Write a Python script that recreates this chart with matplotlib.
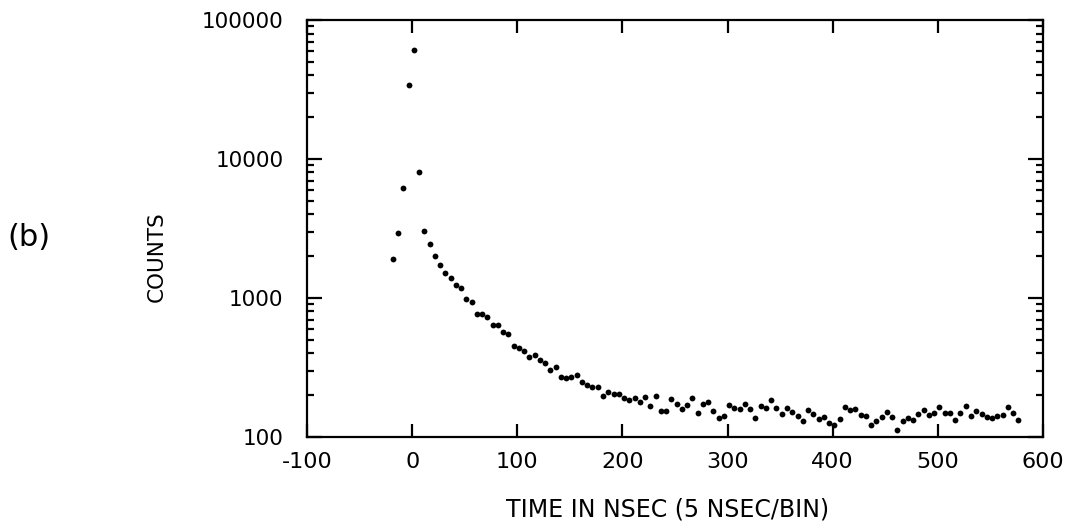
import numpy as np
import matplotlib
matplotlib.use('Agg')
from matplotlib import pyplot as plt
from matplotlib.ticker import LogLocator, NullFormatter

plt.rcParams['axes.unicode_minus'] = False
plt.rcParams['font.family'] = 'DejaVu Sans'

# 5 nsec bins
time = np.arange(-18.5, 580, 5)

# counts per bin
counts = [
    1900, 2920, 6210, 34200, 60800, 8100, 3030,
    2450, 2015, 1730, 1520, 1400, 1240, 1186, 979, 931, 771,
    765, 726, 640, 640, 566, 548, 454, 437, 418, 378, 387, 358, 339,
    303, 317, 269, 266, 272, 279, 247, 237, 228, 228,
    197, 211, 204, 203, 190, 185, 190, 178, 195, 168,
    197, 154, 155, 187, 172, 159, 171, 192, 148,
    172, 178, 154, 136, 141, 169, 162, 159, 174, 160,
    138, 168, 161, 185, 161, 147, 162, 152, 142, 130,
    157, 146, 134, 139, 127, 123, 135, 164, 156, 158,
    144, 141, 123, 131, 140, 151, 139, 112, 131, 138,
    133, 146, 156, 143, 148,
    165, 150, 150, 133, 148, 168, 142, 153, 146, 140,
    138, 141, 145, 164, 148, 133,
]

xticks = [-100, 0, 100, 200, 300, 400, 500, 600]
yticks = [100, 1000, 10000, 100000]

fig = plt.figure(figsize=(10.68, 5.23), dpi=100)
ax = fig.add_axes([0.2875, 0.1644, 0.6891, 0.7973])

ax.plot(time, counts, 'o', color='black', markersize=4.2, markeredgewidth=0)

ax.set_yscale('log')
ax.set_xlim(-100, 600)
ax.set_ylim(100, 100000)

ax.set_xticks(xticks)
ax.set_xticklabels([str(v) for v in xticks])
ax.set_yticks(yticks)
ax.set_yticklabels([str(v) for v in yticks])
ax.yaxis.set_minor_locator(LogLocator(base=10, subs=np.arange(2, 10)))
ax.yaxis.set_minor_formatter(NullFormatter())

for s in ax.spines.values():
    s.set_linewidth(1.6)

ax.tick_params(which='both', direction='in', top=True, right=True, width=1.6)
ax.tick_params(axis='x', which='major', length=9.5, pad=11, labelsize=16)
ax.tick_params(axis='y', which='major', length=11, pad=17, labelsize=15.5)
ax.tick_params(axis='y', which='minor', length=5)

# axis titles placed by hand, like on the original
fig.text(668 / 1068, 1 - 509 / 523, 'TIME IN NSEC (5 NSEC/BIN)', fontsize=17,
         ha='center', va='center')
fig.text(157 / 1068, 1 - 257 / 523, 'COUNTS', rotation=90, fontsize=15.5,
         ha='center', va='center')
fig.text(29 / 1068, 1 - 237 / 523, '(b)', fontsize=22, ha='center', va='center')

fig.savefig('out.png', dpi=100)
